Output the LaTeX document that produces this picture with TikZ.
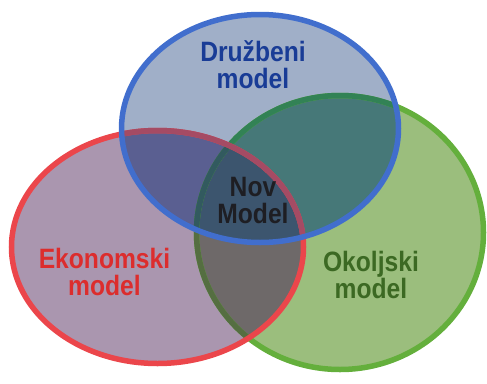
\documentclass[tikz,border=0pt]{standalone}
\usepackage{fontspec}
\newfontfamily\venn[FakeStretch=0.88]{Liberation Sans}

% region fills
\definecolor{fillG}{RGB}{155,190,125}
\definecolor{fillR}{RGB}{170,150,175}
\definecolor{fillB}{RGB}{160,175,200}
\definecolor{fillRG}{RGB}{110,105,105}
\definecolor{fillRB}{RGB}{90,95,145}
\definecolor{fillGB}{RGB}{70,120,120}
\definecolor{fillRGB}{RGB}{60,85,110}
% outlines
\definecolor{lineB}{RGB}{65,110,205}
\definecolor{lineR}{RGB}{235,70,75}
\definecolor{lineG}{RGB}{100,175,60}
\definecolor{lineRinB}{RGB}{165,75,100}
\definecolor{lineGinR}{RGB}{85,110,65}
\definecolor{lineGinB}{RGB}{50,130,85}
\definecolor{lineGinRB}{RGB}{50,90,95}
% labels
\definecolor{txtR}{RGB}{220,45,45}
\definecolor{txtB}{RGB}{25,60,150}
\definecolor{txtG}{RGB}{60,105,35}
\definecolor{txtK}{RGB}{30,30,35}

\def\ellB{(260,128.5) ellipse [x radius=138.5pt, y radius=114pt]}
\def\ellR{(157.5,247) ellipse [x radius=146pt, y radius=116.5pt]}
\def\ellG{(340,232.5) ellipse [x radius=143.5pt, y radius=137pt]}

\tikzset{
  rim/.style={line width=5.5pt},
  lbl/.style={inner sep=0pt, align=center,
    font=\venn\bfseries\fontsize{28}{27}\selectfont}
}

\begin{document}
\begin{tikzpicture}[x=1pt,y=-1pt]
\useasboundingbox (0,0) rectangle (487,383);

% areas
\fill[fillG] \ellG;
\fill[fillR] \ellR;
\begin{scope}
  \clip \ellR;
  \fill[fillRG] \ellG;
\end{scope}
\fill[fillB] \ellB;
\begin{scope}
  \clip \ellB;
  \fill[fillRB] \ellR;
  \fill[fillGB] \ellG;
  \clip \ellR;
  \fill[fillRGB] \ellG;
\end{scope}

% green outline, darker where it lies under the other circles
\draw[rim, lineG] \ellG;
\begin{scope}
  \clip \ellR;
  \draw[rim, lineGinR] \ellG;
\end{scope}
\begin{scope}
  \clip \ellB;
  \draw[rim, lineGinB] \ellG;
  \clip \ellR;
  \draw[rim, lineGinRB] \ellG;
\end{scope}

% red outline
\draw[rim, lineR] \ellR;
\begin{scope}
  \clip \ellB;
  \draw[rim, lineRinB] \ellR;
\end{scope}

% blue outline on top
\draw[rim, lineB] \ellB;

% labels
\node[lbl, text=txtB] (druzbeni) at (253,64.5) {Družbeni\\model};
\node[lbl, text=txtK] (nov) at (253,201) {Nov\\Model};
\node[lbl, text=txtR] (ekonomski) at (104.5,271.5) {Ekonomski\\model};
\node[lbl, text=txtG] (okoljski) at (371,275) {Okoljski\\model};
\end{tikzpicture}
\end{document}
